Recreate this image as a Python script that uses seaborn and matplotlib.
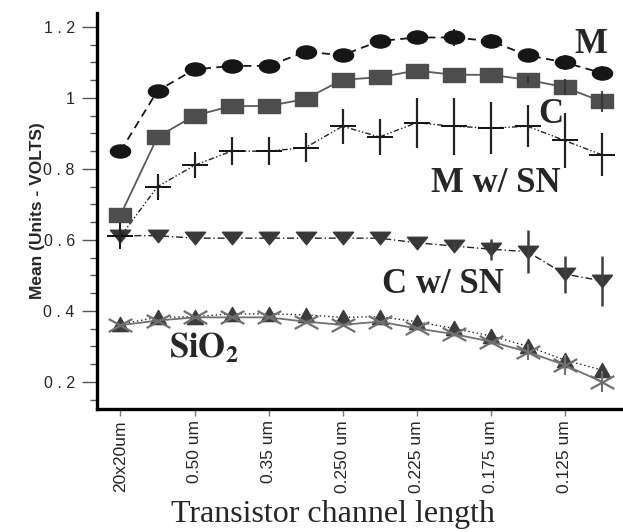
import numpy as np
import matplotlib
matplotlib.use("Agg")
import matplotlib.pyplot as plt
from matplotlib.path import Path
import seaborn as sns

# categorias do eixo x (so os pares tem rotulo)
tamanhos = ["20x20um", "", "0.50 um", "", "0.35 um", "", "0.250 um", "",
            "0.225 um", "", "0.175 um", "", "0.125 um", ""]

m_vals = [0.85, 1.02, 1.08, 1.09, 1.09, 1.13, 1.12, 1.16, 1.17, 1.17, 1.16, 1.12, 1.10, 1.07]
m_err = [0, 0, 0, 0, 0, 0, 0, 0, 0.01, 0.023, 0.02, 0, 0.022, 0.02]

c_vals = [0.67, 0.89, 0.95, 0.977, 0.977, 0.997, 1.051, 1.058, 1.077, 1.065, 1.065, 1.051, 1.03, 0.99]
c_err = [0, 0, 0, 0, 0, 0, 0, 0, 0, 0, 0, 0.01, 0.022, 0.03]

msn_vals = [0.61, 0.75, 0.81, 0.85, 0.85, 0.86, 0.92, 0.89, 0.93, 0.92, 0.915, 0.92, 0.88, 0.84]
msn_err = [0.025, 0.03, 0.03, 0.04, 0.04, 0.041, 0.05, 0.05, 0.07, 0.081, 0.072, 0.059, 0.077, 0.061]

csn_vals = [0.612, 0.612, 0.605, 0.605, 0.605, 0.605, 0.605, 0.605, 0.592, 0.583, 0.574, 0.567, 0.504, 0.485]
csn_err = [0, 0, 0, 0, 0, 0, 0, 0, 0, 0.01, 0.03, 0.061, 0.052, 0.071]

sio2_a = [0.363, 0.382, 0.384, 0.392, 0.392, 0.389, 0.382, 0.384, 0.370, 0.351, 0.330, 0.301, 0.262, 0.234]
sio2_b = [0.36, 0.373, 0.382, 0.382, 0.382, 0.370, 0.361, 0.370, 0.351, 0.335, 0.314, 0.285, 0.248, 0.201]
sio2_b_err = [0, 0, 0, 0, 0, 0, 0, 0, 0, 0, 0, 0.023, 0.028, 0.03]

ylabels = {0.2: "0 . 2", 0.4: "0 . 4", 0.6: "0 . 6", 0.8: "0 . 8", 1.0: "1", 1.2: "1 . 2"}


def _poly(pts):
    pts = list(pts) + [pts[0]]
    codes = [Path.MOVETO] + [Path.LINETO] * (len(pts) - 2) + [Path.CLOSEPOLY]
    return Path(pts, codes)


elipse = Path(Path.unit_circle().vertices * [1.0, 0.65], Path.unit_circle().codes)
retang = _poly([(-1, -0.64), (1, -0.64), (1, 0.64), (-1, 0.64)])
tri_baixo = _poly([(-1, 0.62), (1, 0.62), (0, -0.62)])
tri_cima = _poly([(-0.9, -0.8), (0.9, -0.8), (0, 0.8)])
xis = Path([(-1, -0.55), (1, 0.55), (-1, 0.55), (1, -0.55)],
           [Path.MOVETO, Path.LINETO, Path.MOVETO, Path.LINETO])

sns.set_style("white")
plt.rcParams["font.family"] = ["Liberation Sans", "DejaVu Sans"]
plt.rcParams["mathtext.fontset"] = "stix"

fig = plt.figure(figsize=(6.23, 5.32), dpi=100)
ax = fig.add_axes([0.1557, 0.2312, 0.8443, 0.7444])

x = np.arange(len(tamanhos))


def serie(vals, err, marker, ms, cor, ls, lcor, lw=1.0, ecor=None, ew=1.6, z=3, mfc=None, mew=1.0):
    if err is not None:
        ax.errorbar(x, vals, yerr=err, fmt="none", ecolor=ecor or cor, elinewidth=ew,
                    capsize=0, zorder=z + 0.5)
    sns.lineplot(x=x, y=vals, ax=ax, marker=marker, markersize=ms, color=lcor,
                 linestyle=ls, linewidth=lw, markerfacecolor=mfc or cor,
                 markeredgecolor=cor, markeredgewidth=mew, errorbar=None, zorder=z)


serie(sio2_a, None, tri_cima, 11.5, "#3c3c3c", (0, (1, 2)), "#222222", z=3)
serie(sio2_b, sio2_b_err, xis, 17, "#707070", "-", "#707070", lw=1.3,
      ecor="#707070", ew=1.5, z=4, mfc="none", mew=1.6)
serie(csn_vals, csn_err, tri_baixo, 14.5, "#383838", (0, (5, 2, 1, 2)), "#222222",
      ecor="#404040", ew=1.8, z=5)
serie(msn_vals, msn_err, "+", 19, "#111111", (0, (4, 1.6, 1, 1.6, 1, 1.6)), "#222222",
      ecor="#222222", ew=1.6, z=6, mew=1.4)
serie(c_vals, c_err, retang, 15.8, "#4d4d4d", "-", "#5a5a5a", lw=1.3,
      ecor="#333333", ew=1.3, z=7)
serie(m_vals, m_err, elipse, 14.5, "#161616", (0, (4.5, 3)), "#161616", lw=1.3,
      ecor="#161616", ew=1.3, z=8)

ax.set_xlim(-0.635, 13.58)
ax.set_ylim(0.124, 1.239)

ax.set_xticks(x[::2])
ax.set_xticklabels(tamanhos[::2], rotation=90, fontsize=12.5)
ax.set_yticks(list(ylabels.keys()))
ax.set_yticklabels(list(ylabels.values()), fontsize=11.5)
ax.set_yticks(np.arange(0.15, 1.24, 0.05), minor=True)
ax.tick_params(axis="y", which="major", length=11, width=1, color="#555555",
               left=True, pad=5)
ax.tick_params(axis="y", which="minor", length=5, width=1, color="#555555", left=True)
ax.tick_params(axis="x", which="major", length=5, width=1, color="#777777",
               bottom=True, pad=3)

for lado in ["top", "right"]:
    ax.spines[lado].set_visible(False)
for lado in ["left", "bottom"]:
    ax.spines[lado].set_linewidth(2.4)
    ax.spines[lado].set_color("black")

ax.set_ylabel("Mean (Units - VOLTS)", fontsize=12.5, fontweight="bold", labelpad=-1)
ax.set_xlabel("")
fig.text(0.535, 0.033, "Transistor channel length", family="Liberation Serif",
         fontsize=23, ha="center", va="center")

rot = dict(family="Liberation Serif", fontsize=25, fontweight="bold",
           ha="left", va="baseline", zorder=10)
ax.text(12.27, 1.127, "M", **rot)
ax.text(11.29, 0.930, "C", **rot)
ax.text(8.4, 0.735, "M w/ SN", **rot)
ax.text(7.07, 0.451, "C w/ SN", **rot)
ax.text(1.32, 0.268, r"$\mathbf{SiO_2}$", fontsize=25, ha="left", va="baseline", zorder=10)

fig.savefig("out.png", dpi=100)
